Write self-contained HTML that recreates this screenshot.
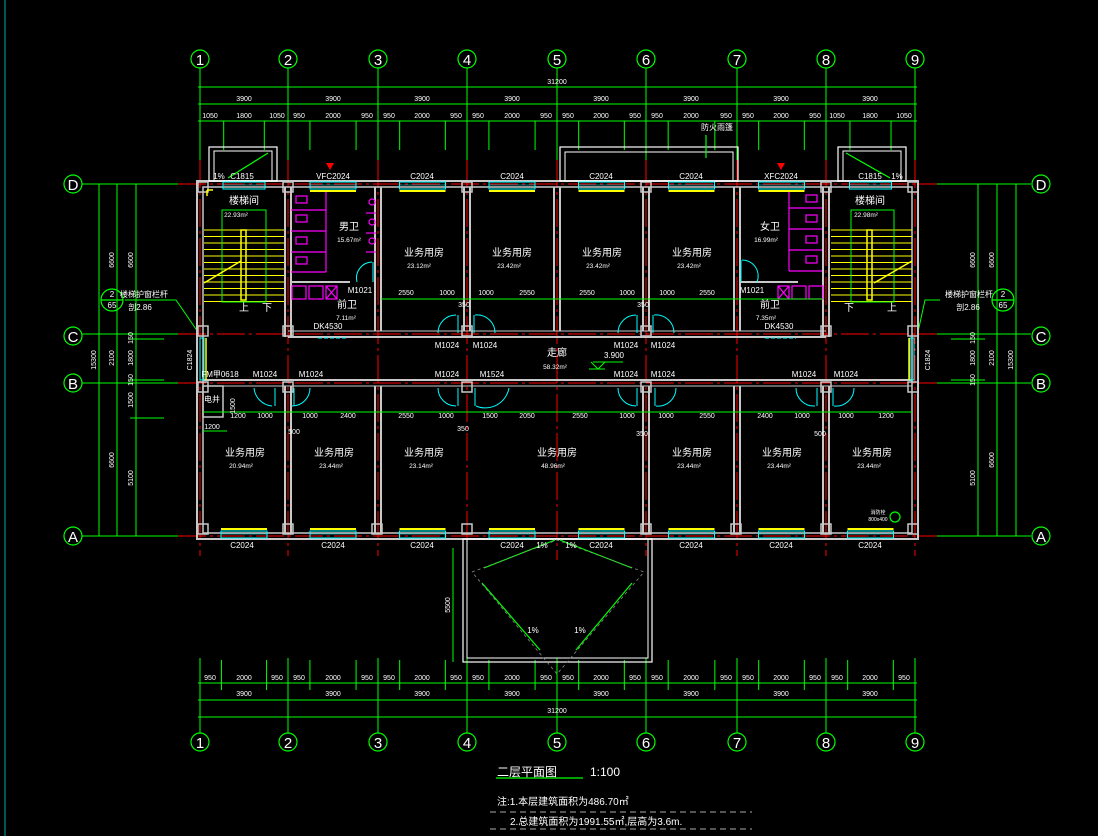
<!DOCTYPE html>
<html><head><meta charset="utf-8">
<style>
html,body{margin:0;padding:0;background:#000;width:1098px;height:836px;overflow:hidden}
svg{display:block;font-size:7px}
text{font-family:"Liberation Sans","Noto Sans CJK SC",sans-serif;fill:#fff;text-anchor:middle}
.ax text{font-size:15px}
.rm text{font-size:10px}
.g{stroke:#0f0;stroke-width:1;fill:none}
.r{stroke:#f00;stroke-width:1;fill:none;stroke-dasharray:28 4 3 4}
.w{stroke:#c8c8c8;stroke-width:2;fill:none}
.c{stroke:#0ff;stroke-width:1;fill:none}
.y{stroke:#ff0;stroke-width:1.5;fill:none}
.m{stroke:#f0f;stroke-width:1.2;fill:none}
.wh{stroke:#fff;stroke-width:1.2;fill:none}
</style></head><body>
<svg width="1098" height="836" viewBox="0 0 1098 836" xmlns="http://www.w3.org/2000/svg">
<rect width="1098" height="836" fill="#000"/>
<line x1="5" y1="0" x2="5" y2="836" stroke="#0aa" stroke-width="1"/>

<g class="g" id="gv"></g>
<g class="g">
<line x1="198" y1="87" x2="917" y2="87"/>
<line x1="198" y1="104" x2="917" y2="104"/>
<line x1="198" y1="121" x2="917" y2="121"/>
<line x1="198" y1="683" x2="917" y2="683"/>
<line x1="198" y1="700" x2="917" y2="700"/>
<line x1="198" y1="717" x2="917" y2="717"/>
<line x1="82" y1="184" x2="178" y2="184"/><line x1="82" y1="334" x2="178" y2="334"/><line x1="82" y1="383" x2="178" y2="383"/><line x1="82" y1="536" x2="178" y2="536"/>
<line x1="99" y1="184" x2="99" y2="536"/><line x1="117" y1="184" x2="117" y2="536"/><line x1="136" y1="184" x2="136" y2="536"/>
<line x1="130" y1="339" x2="164" y2="339"/><line x1="130" y1="380" x2="164" y2="380"/><line x1="130" y1="418" x2="164" y2="418"/>
<line x1="937" y1="184" x2="1031" y2="184"/><line x1="937" y1="334" x2="1031" y2="334"/><line x1="937" y1="383" x2="1031" y2="383"/><line x1="937" y1="536" x2="1031" y2="536"/>
<line x1="978" y1="184" x2="978" y2="536"/><line x1="997" y1="184" x2="997" y2="536"/><line x1="1016" y1="184" x2="1016" y2="536"/>
<line x1="951" y1="339" x2="985" y2="339"/><line x1="951" y1="380" x2="985" y2="380"/>
<polyline points="125,300 176,300 198,332"/>
<polyline points="940,300 925,300 918,332" />
<line x1="453" y1="548" x2="453" y2="662"/>
</g>

<g class="r">
<line x1="178" y1="184" x2="937" y2="184"/><line x1="178" y1="334" x2="937" y2="334"/>
<line x1="178" y1="383" x2="937" y2="383"/><line x1="178" y1="536" x2="937" y2="536"/>
<line x1="200" y1="160" x2="200" y2="556"/><line x1="288" y1="160" x2="288" y2="556"/>
<line x1="378" y1="160" x2="378" y2="556"/><line x1="467" y1="160" x2="467" y2="556"/>
<line x1="557" y1="160" x2="557" y2="560"/><line x1="646" y1="160" x2="646" y2="556"/>
<line x1="737" y1="160" x2="737" y2="556"/><line x1="826" y1="160" x2="826" y2="556"/>
<line x1="915" y1="160" x2="915" y2="556"/>
</g>

<g class="w">
<rect x="197" y="181" width="721" height="358"/>
<rect x="203" y="187" width="709" height="346" stroke-width="1.5"/>
<line x1="288" y1="337" x2="826" y2="337"/><line x1="288" y1="331" x2="826" y2="331" stroke-width="1"/>
<line x1="203" y1="380" x2="912" y2="380"/><line x1="203" y1="386" x2="912" y2="386" stroke-width="1"/>
<line x1="285" y1="187" x2="285" y2="337"/><line x1="291" y1="187" x2="291" y2="337"/>
<line x1="375" y1="187" x2="375" y2="331"/><line x1="381" y1="187" x2="381" y2="331"/>
<line x1="464" y1="187" x2="464" y2="331"/><line x1="470" y1="187" x2="470" y2="331"/>
<line x1="554" y1="187" x2="554" y2="331"/><line x1="560" y1="187" x2="560" y2="331"/>
<line x1="643" y1="187" x2="643" y2="331"/><line x1="649" y1="187" x2="649" y2="331"/>
<line x1="734" y1="187" x2="734" y2="331"/><line x1="740" y1="187" x2="740" y2="331"/>
<line x1="823" y1="187" x2="823" y2="337"/><line x1="829" y1="187" x2="829" y2="337"/>
<line x1="291" y1="282" x2="350" y2="282"/><line x1="740" y1="282" x2="798" y2="282"/>
<line x1="285" y1="386" x2="285" y2="533"/><line x1="291" y1="386" x2="291" y2="533"/>
<line x1="375" y1="386" x2="375" y2="533"/><line x1="381" y1="386" x2="381" y2="533"/>
<line x1="643" y1="386" x2="643" y2="533"/><line x1="649" y1="386" x2="649" y2="533"/>
<line x1="734" y1="386" x2="734" y2="533"/><line x1="740" y1="386" x2="740" y2="533"/>
<line x1="823" y1="386" x2="823" y2="533"/><line x1="829" y1="386" x2="829" y2="533"/>
<rect x="203" y="386" width="20" height="31" stroke-width="1.5"/>
<rect x="198" y="182" width="10" height="10" stroke-width="1.5"/><rect x="283" y="182" width="10" height="10" stroke-width="1.5"/>
<rect x="462" y="182" width="10" height="10" stroke-width="1.5"/><rect x="641" y="182" width="10" height="10" stroke-width="1.5"/>
<rect x="821" y="182" width="10" height="10" stroke-width="1.5"/><rect x="908" y="182" width="10" height="10" stroke-width="1.5"/>
<rect x="198" y="326" width="10" height="10" stroke-width="1.5"/><rect x="283" y="326" width="10" height="10" stroke-width="1.5"/>
<rect x="641" y="326" width="10" height="10" stroke-width="1.5"/><rect x="462" y="326" width="10" height="10" stroke-width="1.5"/>
<rect x="821" y="326" width="10" height="10" stroke-width="1.5"/><rect x="908" y="326" width="10" height="10" stroke-width="1.5"/>
<rect x="198" y="382" width="10" height="10" stroke-width="1.5"/><rect x="283" y="382" width="10" height="10" stroke-width="1.5"/>
<rect x="462" y="382" width="10" height="10" stroke-width="1.5"/><rect x="641" y="382" width="10" height="10" stroke-width="1.5"/>
<rect x="821" y="382" width="10" height="10" stroke-width="1.5"/><rect x="908" y="382" width="10" height="10" stroke-width="1.5"/>
<rect x="198" y="524" width="10" height="10" stroke-width="1.5"/><rect x="283" y="524" width="10" height="10" stroke-width="1.5"/>
<rect x="372" y="524" width="10" height="10" stroke-width="1.5"/><rect x="462" y="524" width="10" height="10" stroke-width="1.5"/>
<rect x="641" y="524" width="10" height="10" stroke-width="1.5"/><rect x="731" y="524" width="10" height="10" stroke-width="1.5"/>
<rect x="821" y="524" width="10" height="10" stroke-width="1.5"/><rect x="908" y="524" width="10" height="10" stroke-width="1.5"/>
</g>

<g class="wh">
<rect x="209" y="147" width="68" height="34"/><rect x="214" y="151" width="58" height="30" stroke-width="1"/>
<rect x="838" y="147" width="68" height="34"/><rect x="843" y="151" width="58" height="30" stroke-width="1"/>
<rect x="560" y="147" width="178" height="34"/><rect x="565" y="152" width="168" height="29" stroke-width="1"/>
<rect x="463" y="539" width="189" height="123"/><rect x="467" y="539" width="181" height="119" stroke-width="1"/>
</g>
<g stroke="#0f0" stroke-width="1.2">
<line x1="228" y1="178" x2="268" y2="153"/><line x1="846" y1="153" x2="890" y2="178"/>
<line x1="484" y1="568" x2="555" y2="540"/><line x1="560" y1="540" x2="632" y2="568"/>
<line x1="482" y1="583" x2="540" y2="650"/><line x1="632" y1="583" x2="576" y2="650"/>
<line x1="706" y1="158" x2="706" y2="135"/>
</g>
<g stroke="#888" stroke-width="0.8" stroke-dasharray="3 3" fill="none">
<polyline points="472,572 557,540 644,572 557,674 472,572"/>
</g>

<g id="win"></g>
<g id="st"></g>
<g class="g">
<rect x="222" y="210" width="44" height="92"/><rect x="851" y="210" width="43" height="92"/>
</g>
<g class="y">
<rect x="241" y="230" width="5" height="70"/><rect x="867" y="230" width="5" height="70"/>
<line x1="204" y1="283" x2="241" y2="261"/><line x1="874" y1="283" x2="912" y2="261"/>
<line x1="207" y1="190" x2="213" y2="190"/><line x1="207" y1="190" x2="207" y2="196"/>
</g>

<g class="m">
<line x1="291" y1="210" x2="326" y2="210"/><line x1="291" y1="231" x2="326" y2="231"/><line x1="291" y1="252" x2="326" y2="252"/><line x1="291" y1="272" x2="326" y2="272"/>
<line x1="326" y1="192" x2="326" y2="272"/>
<rect x="296" y="196" width="11" height="7"/><rect x="296" y="215" width="11" height="7"/><rect x="296" y="237" width="11" height="7"/><rect x="296" y="257" width="11" height="7"/>
<rect x="292" y="286" width="14" height="13"/><rect x="309" y="286" width="14" height="13"/><rect x="326" y="286" width="11" height="13"/>
<line x1="326" y1="286" x2="337" y2="299"/><line x1="337" y1="286" x2="326" y2="299"/>
<circle cx="372" cy="202" r="3"/><circle cx="372" cy="222" r="3"/><circle cx="372" cy="241" r="3"/>
<line x1="366" y1="213" x2="376" y2="213"/><line x1="366" y1="233" x2="376" y2="233"/><line x1="366" y1="252" x2="376" y2="252"/>
<line x1="789" y1="208" x2="822" y2="208"/><line x1="789" y1="229" x2="822" y2="229"/><line x1="789" y1="250" x2="822" y2="250"/><line x1="789" y1="271" x2="822" y2="271"/>
<line x1="789" y1="192" x2="789" y2="271"/>
<rect x="806" y="195" width="11" height="7"/><rect x="806" y="215" width="11" height="7"/><rect x="806" y="236" width="11" height="7"/><rect x="806" y="256" width="11" height="7"/>
<rect x="778" y="286" width="11" height="13"/><rect x="792" y="286" width="14" height="13"/><rect x="809" y="286" width="14" height="13"/>
<line x1="778" y1="286" x2="789" y2="299"/><line x1="789" y1="286" x2="778" y2="299"/>
</g>

<g class="c">
<path d="M372,262 A16,16 0 0 0 357,282"/><line x1="373" y1="262" x2="373" y2="282"/>
<path d="M742,260 A16,16 0 0 1 757,282"/><line x1="741" y1="260" x2="741" y2="282"/>
<path d="M438,333 A18,18 0 0 1 456,315"/><line x1="458" y1="315" x2="458" y2="333"/>
<path d="M475,315 A18,18 0 0 1 495,333"/><line x1="474" y1="315" x2="474" y2="333"/>
<path d="M618,333 A18,18 0 0 1 636,315"/><line x1="637" y1="315" x2="637" y2="333"/>
<path d="M654,315 A18,18 0 0 1 674,333"/><line x1="653" y1="315" x2="653" y2="333"/>
<path d="M254,388 A20,20 0 0 0 272,406"/><line x1="275" y1="388" x2="275" y2="406"/>
<path d="M310,388 A18,18 0 0 1 292,406"/><line x1="294" y1="388" x2="294" y2="406"/>
<path d="M438,388 A18,18 0 0 0 456,406"/><line x1="458" y1="388" x2="458" y2="406"/>
<path d="M509,388 A24,24 0 0 1 476,406"/><line x1="475" y1="388" x2="475" y2="406"/>
<path d="M618,388 A18,18 0 0 0 636,406"/><line x1="637" y1="388" x2="637" y2="406"/>
<path d="M676,388 A18,18 0 0 1 656,406"/><line x1="655" y1="388" x2="655" y2="406"/>
<path d="M796,388 A18,18 0 0 0 815,406"/><line x1="817" y1="388" x2="817" y2="406"/>
<path d="M854,388 A18,18 0 0 1 834,406"/><line x1="833" y1="388" x2="833" y2="406"/>
<line x1="318" y1="338" x2="348" y2="338" stroke-dasharray="4 2"/><line x1="765" y1="338" x2="796" y2="338" stroke-dasharray="4 2"/>
<rect x="200" y="338" width="4" height="42"/><rect x="910" y="338" width="4" height="42"/>
</g>
<line x1="206" y1="338" x2="206" y2="380" stroke="#ff0" stroke-width="1.5"/>
<line x1="909" y1="338" x2="909" y2="380" stroke="#ff0" stroke-width="1.5"/>

<g class="g" stroke-width="0.8">
<line x1="381" y1="299" x2="823" y2="299"/>
<line x1="203" y1="412" x2="912" y2="412"/>
<line x1="203" y1="431" x2="227" y2="431"/>
<line x1="593" y1="362" x2="623" y2="362"/><line x1="589" y1="369" x2="605" y2="369"/>
<polyline points="591,362 598,369 605,362"/>
</g>

<polygon points="326,163 334,163 330,170" fill="#f00"/>
<polygon points="777,163 785,163 781,170" fill="#f00"/>

<g fill="none" stroke="#0f0" stroke-width="1.2">
<circle cx="200" cy="59" r="9"/><circle cx="288" cy="59" r="9"/><circle cx="378" cy="59" r="9"/><circle cx="467" cy="59" r="9"/><circle cx="557" cy="59" r="9"/><circle cx="646" cy="59" r="9"/><circle cx="737" cy="59" r="9"/><circle cx="826" cy="59" r="9"/><circle cx="915" cy="59" r="9"/>
<circle cx="200" cy="742" r="9"/><circle cx="288" cy="742" r="9"/><circle cx="378" cy="742" r="9"/><circle cx="467" cy="742" r="9"/><circle cx="557" cy="742" r="9"/><circle cx="646" cy="742" r="9"/><circle cx="737" cy="742" r="9"/><circle cx="826" cy="742" r="9"/><circle cx="915" cy="742" r="9"/>
<circle cx="73" cy="184" r="9"/><circle cx="73" cy="336" r="9"/><circle cx="73" cy="383" r="9"/><circle cx="73" cy="536" r="9"/>
<circle cx="1041" cy="184" r="9"/><circle cx="1041" cy="336" r="9"/><circle cx="1041" cy="383" r="9"/><circle cx="1041" cy="536" r="9"/>
<circle cx="112" cy="300" r="11"/><circle cx="1003" cy="300" r="11"/>
<line x1="101" y1="300" x2="123" y2="300"/><line x1="992" y1="300" x2="1014" y2="300"/>
<circle cx="895" cy="517" r="5"/>
</g>

<g class="ax">
<text x="200" y="65">1</text><text x="288" y="65">2</text><text x="378" y="65">3</text><text x="467" y="65">4</text><text x="557" y="65">5</text><text x="646" y="65">6</text><text x="737" y="65">7</text><text x="826" y="65">8</text><text x="915" y="65">9</text>
<text x="200" y="748">1</text><text x="288" y="748">2</text><text x="378" y="748">3</text><text x="467" y="748">4</text><text x="557" y="748">5</text><text x="646" y="748">6</text><text x="737" y="748">7</text><text x="826" y="748">8</text><text x="915" y="748">9</text>
<text x="73" y="190">D</text><text x="73" y="342">C</text><text x="73" y="389">B</text><text x="73" y="542">A</text>
<text x="1041" y="190">D</text><text x="1041" y="342">C</text><text x="1041" y="389">B</text><text x="1041" y="542">A</text>
</g>

<g>
<text x="557" y="84">31200</text><text x="557" y="713">31200</text>
<text x="244" y="101">3900</text><text x="333" y="101">3900</text><text x="422" y="101">3900</text><text x="512" y="101">3900</text><text x="601" y="101">3900</text><text x="691" y="101">3900</text><text x="781" y="101">3900</text><text x="870" y="101">3900</text>
<text x="244" y="696">3900</text><text x="333" y="696">3900</text><text x="422" y="696">3900</text><text x="512" y="696">3900</text><text x="601" y="696">3900</text><text x="691" y="696">3900</text><text x="781" y="696">3900</text><text x="870" y="696">3900</text>
<text x="210" y="118">1050</text><text x="244" y="118">1800</text><text x="277" y="118">1050</text>
<text x="299" y="118">950</text><text x="333" y="118">2000</text><text x="367" y="118">950</text>
<text x="389" y="118">950</text><text x="422" y="118">2000</text><text x="456" y="118">950</text>
<text x="478" y="118">950</text><text x="512" y="118">2000</text><text x="546" y="118">950</text>
<text x="568" y="118">950</text><text x="601" y="118">2000</text><text x="635" y="118">950</text>
<text x="657" y="118">950</text><text x="691" y="118">2000</text><text x="726" y="118">950</text>
<text x="748" y="118">950</text><text x="781" y="118">2000</text><text x="815" y="118">950</text>
<text x="837" y="118">1050</text><text x="870" y="118">1800</text><text x="904" y="118">1050</text>
<text x="210" y="680">950</text><text x="244" y="680">2000</text><text x="277" y="680">950</text>
<text x="299" y="680">950</text><text x="333" y="680">2000</text><text x="367" y="680">950</text>
<text x="389" y="680">950</text><text x="422" y="680">2000</text><text x="456" y="680">950</text>
<text x="478" y="680">950</text><text x="512" y="680">2000</text><text x="546" y="680">950</text>
<text x="568" y="680">950</text><text x="601" y="680">2000</text><text x="635" y="680">950</text>
<text x="657" y="680">950</text><text x="691" y="680">2000</text><text x="726" y="680">950</text>
<text x="748" y="680">950</text><text x="781" y="680">2000</text><text x="815" y="680">950</text>
<text x="837" y="680">950</text><text x="870" y="680">2000</text><text x="904" y="680">950</text>
<text x="406" y="295">2550</text><text x="447" y="295">1000</text><text x="486" y="295">1000</text><text x="527" y="295">2550</text>
<text x="587" y="295">2550</text><text x="627" y="295">1000</text><text x="667" y="295">1000</text><text x="707" y="295">2550</text>
<text x="464" y="307">350</text><text x="643" y="307">350</text>
<text x="238" y="418">1200</text><text x="265" y="418">1000</text><text x="310" y="418">1000</text><text x="348" y="418">2400</text>
<text x="406" y="418">2550</text><text x="446" y="418">1000</text><text x="490" y="418">1500</text><text x="527" y="418">2050</text><text x="580" y="418">2550</text><text x="627" y="418">1000</text><text x="666" y="418">1000</text><text x="707" y="418">2550</text><text x="765" y="418">2400</text><text x="802" y="418">1000</text><text x="846" y="418">1000</text><text x="886" y="418">1200</text>
<text x="212" y="429">1200</text><text x="294" y="434">500</text><text x="463" y="431">350</text><text x="642" y="436">350</text><text x="820" y="436">500</text>
<g transform="rotate(-90)">
<text x="-360" y="96">15300</text><text x="-260" y="114">6600</text><text x="-358" y="114">2100</text><text x="-460" y="114">6600</text>
<text x="-260" y="133">6600</text><text x="-338" y="133">150</text><text x="-358" y="133">1800</text><text x="-380" y="133">150</text><text x="-400" y="133">1500</text><text x="-478" y="133">5100</text>
<text x="-360" y="1013">15300</text><text x="-260" y="994">6600</text><text x="-358" y="994">2100</text><text x="-460" y="994">6600</text>
<text x="-260" y="975">6600</text><text x="-338" y="975">150</text><text x="-358" y="975">1800</text><text x="-380" y="975">150</text><text x="-478" y="975">5100</text>
<text x="-360" y="192">C1824</text><text x="-360" y="930">C1824</text><text x="-605" y="450">5500</text><text x="-406" y="235">1500</text>
</g>
</g>

<g font-size="8">
<text x="242" y="179">C1815</text><text x="333" y="179">VFC2024</text><text x="422" y="179">C2024</text><text x="512" y="179">C2024</text><text x="601" y="179">C2024</text><text x="691" y="179">C2024</text><text x="781" y="179">XFC2024</text><text x="870" y="179">C1815</text>
<text x="242" y="548">C2024</text><text x="333" y="548">C2024</text><text x="422" y="548">C2024</text><text x="512" y="548">C2024</text><text x="601" y="548">C2024</text><text x="691" y="548">C2024</text><text x="781" y="548">C2024</text><text x="870" y="548">C2024</text>
<text x="219" y="179">1%</text><text x="897" y="179">1%</text>
<text x="542" y="548">1%</text><text x="571" y="548">1%</text><text x="533" y="633">1%</text><text x="580" y="633">1%</text>
<text x="717" y="130">防火雨篷</text>
<text x="360" y="293">M1021</text><text x="752" y="293">M1021</text>
<text x="328" y="329">DK4530</text><text x="779" y="329">DK4530</text>
<text x="447" y="348">M1024</text><text x="485" y="348">M1024</text><text x="626" y="348">M1024</text><text x="663" y="348">M1024</text>
<text x="265" y="377">M1024</text><text x="311" y="377">M1024</text><text x="447" y="377">M1024</text><text x="492" y="377">M1524</text><text x="626" y="377">M1024</text><text x="663" y="377">M1024</text><text x="804" y="377">M1024</text><text x="846" y="377">M1024</text>
<text x="220" y="377">FM甲0618</text>
<text x="614" y="358">3.900</text>
<text x="144" y="297">楼梯护窗栏杆</text><text x="140" y="310">剖2.86</text>
<text x="969" y="297">楼梯护窗栏杆</text><text x="968" y="310">剖2.86</text>
<text x="112" y="297">2</text><text x="112" y="308">65</text><text x="1003" y="297">2</text><text x="1003" y="308">65</text>
<text x="878" y="514" font-size="5">消防栓</text><text x="878" y="521" font-size="5">800x400</text>
<text x="212" y="402">电井</text>
</g>

<g class="rm">
<text x="244" y="204">楼梯间</text><text x="870" y="204">楼梯间</text>
<text x="244" y="311">上</text><text x="267" y="311">下</text><text x="849" y="311">下</text><text x="892" y="311">上</text>
<text x="349" y="230">男卫</text><text x="770" y="230">女卫</text>
<text x="347" y="308">前卫</text><text x="770" y="308">前卫</text>
<text x="424" y="256">业务用房</text><text x="512" y="256">业务用房</text><text x="602" y="256">业务用房</text><text x="692" y="256">业务用房</text>
<text x="557" y="356">走廊</text>
<text x="245" y="456">业务用房</text><text x="334" y="456">业务用房</text><text x="424" y="456">业务用房</text><text x="557" y="456">业务用房</text><text x="692" y="456">业务用房</text><text x="782" y="456">业务用房</text><text x="872" y="456">业务用房</text>
</g>
<g font-size="6.5">
<text x="236" y="217">22.93m²</text><text x="866" y="217">22.98m²</text>
<text x="349" y="242">15.67m²</text><text x="766" y="242">16.99m²</text>
<text x="346" y="320">7.11m²</text><text x="766" y="320">7.35m²</text>
<text x="419" y="268">23.12m²</text><text x="509" y="268">23.42m²</text><text x="598" y="268">23.42m²</text><text x="689" y="268">23.42m²</text>
<text x="555" y="369">58.32m²</text>
<text x="241" y="468">20.94m²</text><text x="331" y="468">23.44m²</text><text x="421" y="468">23.14m²</text><text x="553" y="468">48.96m²</text><text x="689" y="468">23.44m²</text><text x="779" y="468">23.44m²</text><text x="869" y="468">23.44m²</text>
</g>

<text x="497" y="776" font-size="12" style="text-anchor:start">二层平面图</text>
<line x1="496" y1="778" x2="583" y2="778" stroke="#0f0" stroke-width="1.2"/>
<text x="590" y="776" font-size="12" style="text-anchor:start">1:100</text>
<text x="497" y="805" font-size="10" style="text-anchor:start">注:1.本层建筑面积为486.70㎡</text>
<line x1="490" y1="812" x2="752" y2="812" stroke="#aaa" stroke-dasharray="6 4"/>
<text x="510" y="825" font-size="10" style="text-anchor:start">2.总建筑面积为1991.55㎡,层高为3.6m.</text>
<line x1="490" y1="829" x2="752" y2="829" stroke="#aaa" stroke-dasharray="6 4"/>

<script>
(function(){
var NS="http://www.w3.org/2000/svg";
function L(p,x1,y1,x2,y2,c,w){var e=document.createElementNS(NS,"line");e.setAttribute("x1",x1);e.setAttribute("y1",y1);e.setAttribute("x2",x2);e.setAttribute("y2",y2);e.setAttribute("stroke",c);e.setAttribute("stroke-width",w||1);p.appendChild(e);}
function R(p,x,y,w,h,c,sw){var e=document.createElementNS(NS,"rect");e.setAttribute("x",x);e.setAttribute("y",y);e.setAttribute("width",w);e.setAttribute("height",h);e.setAttribute("fill","none");e.setAttribute("stroke",c);e.setAttribute("stroke-width",sw||1);p.appendChild(e);}
var X=[200,288,378,467,557,646,737,826,915];
var gv=document.getElementById("gv");
X.forEach(function(x){L(gv,x,68,x,165,"#0f0");L(gv,x,658,x,733,"#0f0");});
for(var i=0;i<8;i++){var a=X[i],b=X[i+1],r=(i==0||i==7)?[1050/3900,2850/3900]:[950/3900,2950/3900];
 r.forEach(function(f){var x=a+(b-a)*f;L(gv,x,121,x,150,"#0f0");});
 var rb=[950/3900,2950/3900];rb.forEach(function(f){var x=a+(b-a)*f;L(gv,x,660,x,690,"#0f0");});}
var w=document.getElementById("win");
for(var i=0;i<8;i++){var a=X[i],b=X[i+1],m=(a+b)/2,hw=(i==0||i==7)?21:23;
 R(w,m-hw,182,2*hw,7,"#0ff",1);L(w,m-hw,185,m+hw,185,"#0ff",0.6);
 if(i!=0&&i!=7)L(w,m-hw,191,m+hw,191,"#ff0",2);
 R(w,m-23,531,46,7,"#0ff",1);L(w,m-23,534,m+23,534,"#0ff",0.6);L(w,m-23,529,m+23,529,"#ff0",2);}
var s=document.getElementById("st");
for(var y=230;y<=302;y+=6.5){L(s,204,y,284,y,"#ff0",1);L(s,831,y,912,y,"#ff0",1);}
})();
</script>
</svg>
</body></html>
